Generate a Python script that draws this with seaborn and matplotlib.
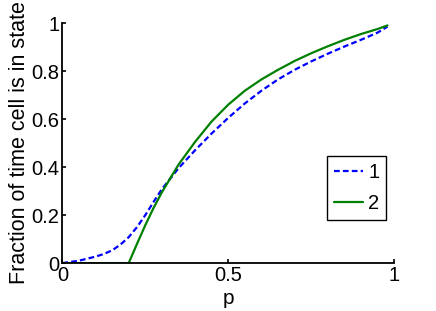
import matplotlib
matplotlib.use("Agg")
import matplotlib.pyplot as plt
import seaborn as sns
import pandas as pd

# values
p = [0.0, 0.05, 0.1, 0.125, 0.15, 0.175, 0.2, 0.225, 0.25, 0.275, 0.3, 0.35, 0.4,
     0.45, 0.5, 0.55, 0.6, 0.65, 0.7, 0.75, 0.8, 0.85, 0.9, 0.95, 0.98]
state1 = [0.0, 0.01, 0.027, 0.038, 0.053, 0.077, 0.108, 0.15, 0.2, 0.255, 0.308,
          0.395, 0.47, 0.54, 0.605, 0.665, 0.718, 0.765, 0.805, 0.84, 0.872, 0.902,
          0.93, 0.96, 0.985]
state2 = [0.0, 0.0, 0.0, 0.0, 0.0, 0.0, 0.0, 0.08, 0.158, 0.23, 0.295, 0.41, 0.505,
          0.59, 0.66, 0.718, 0.765, 0.805, 0.842, 0.874, 0.903, 0.93, 0.954, 0.975, 0.99]
labels = ["1", "2"]
xticks = [0, 0.5, 1]
yticks = [0, 0.2, 0.4, 0.6, 0.8, 1]

sns.set_style("ticks")
plt.rcParams['font.family'] = ['Liberation Sans', 'DejaVu Sans']
for k in ("text.color", "axes.labelcolor", "xtick.color", "ytick.color"):
    plt.rcParams[k] = "black"

df = pd.DataFrame({"p": p, "s1": state1, "s2": state2})

fig = plt.figure(figsize=(4.36, 3.11), dpi=100)
ax = fig.add_axes([0.143, 0.154, 0.761, 0.772])

sns.lineplot(x="p", y="s1", data=df, ax=ax, color="#0000ff", linewidth=1.6,
             label=labels[0])
ax.lines[-1].set_dashes((2.6, 1.4))
sns.lineplot(x="p", y="s2", data=df, ax=ax, color="#008000", linewidth=1.6,
             label=labels[1])

ax.set_xlim(0, 1)
ax.set_ylim(0, 1)
ax.set_xticks(xticks)
ax.set_xticklabels(["0", "0.5", "1"])
ax.set_yticks(yticks)
ax.set_yticklabels(["0", "0.2", "0.4", "0.6", "0.8", "1"])
ax.tick_params(direction="in", length=3, width=1.2, labelsize=14.5, pad=2)
ax.set_xlabel("p", fontsize=15, labelpad=3)
ax.set_ylabel("Fraction of time cell is in state", fontsize=15.5, labelpad=1)
sns.despine(ax=ax)
for s in ("left", "bottom"):
    ax.spines[s].set_linewidth(1.3)
    ax.spines[s].set_color("black")

leg = ax.legend(loc="upper right", bbox_to_anchor=(0.976, 0.446), borderaxespad=0,
                fontsize=14.5, handlelength=1.45, handletextpad=0.25, labelspacing=0.6,
                borderpad=0.35, fancybox=False, framealpha=1, edgecolor="black")
leg.get_frame().set_linewidth(1.0)

fig.savefig("out.png", dpi=100)
